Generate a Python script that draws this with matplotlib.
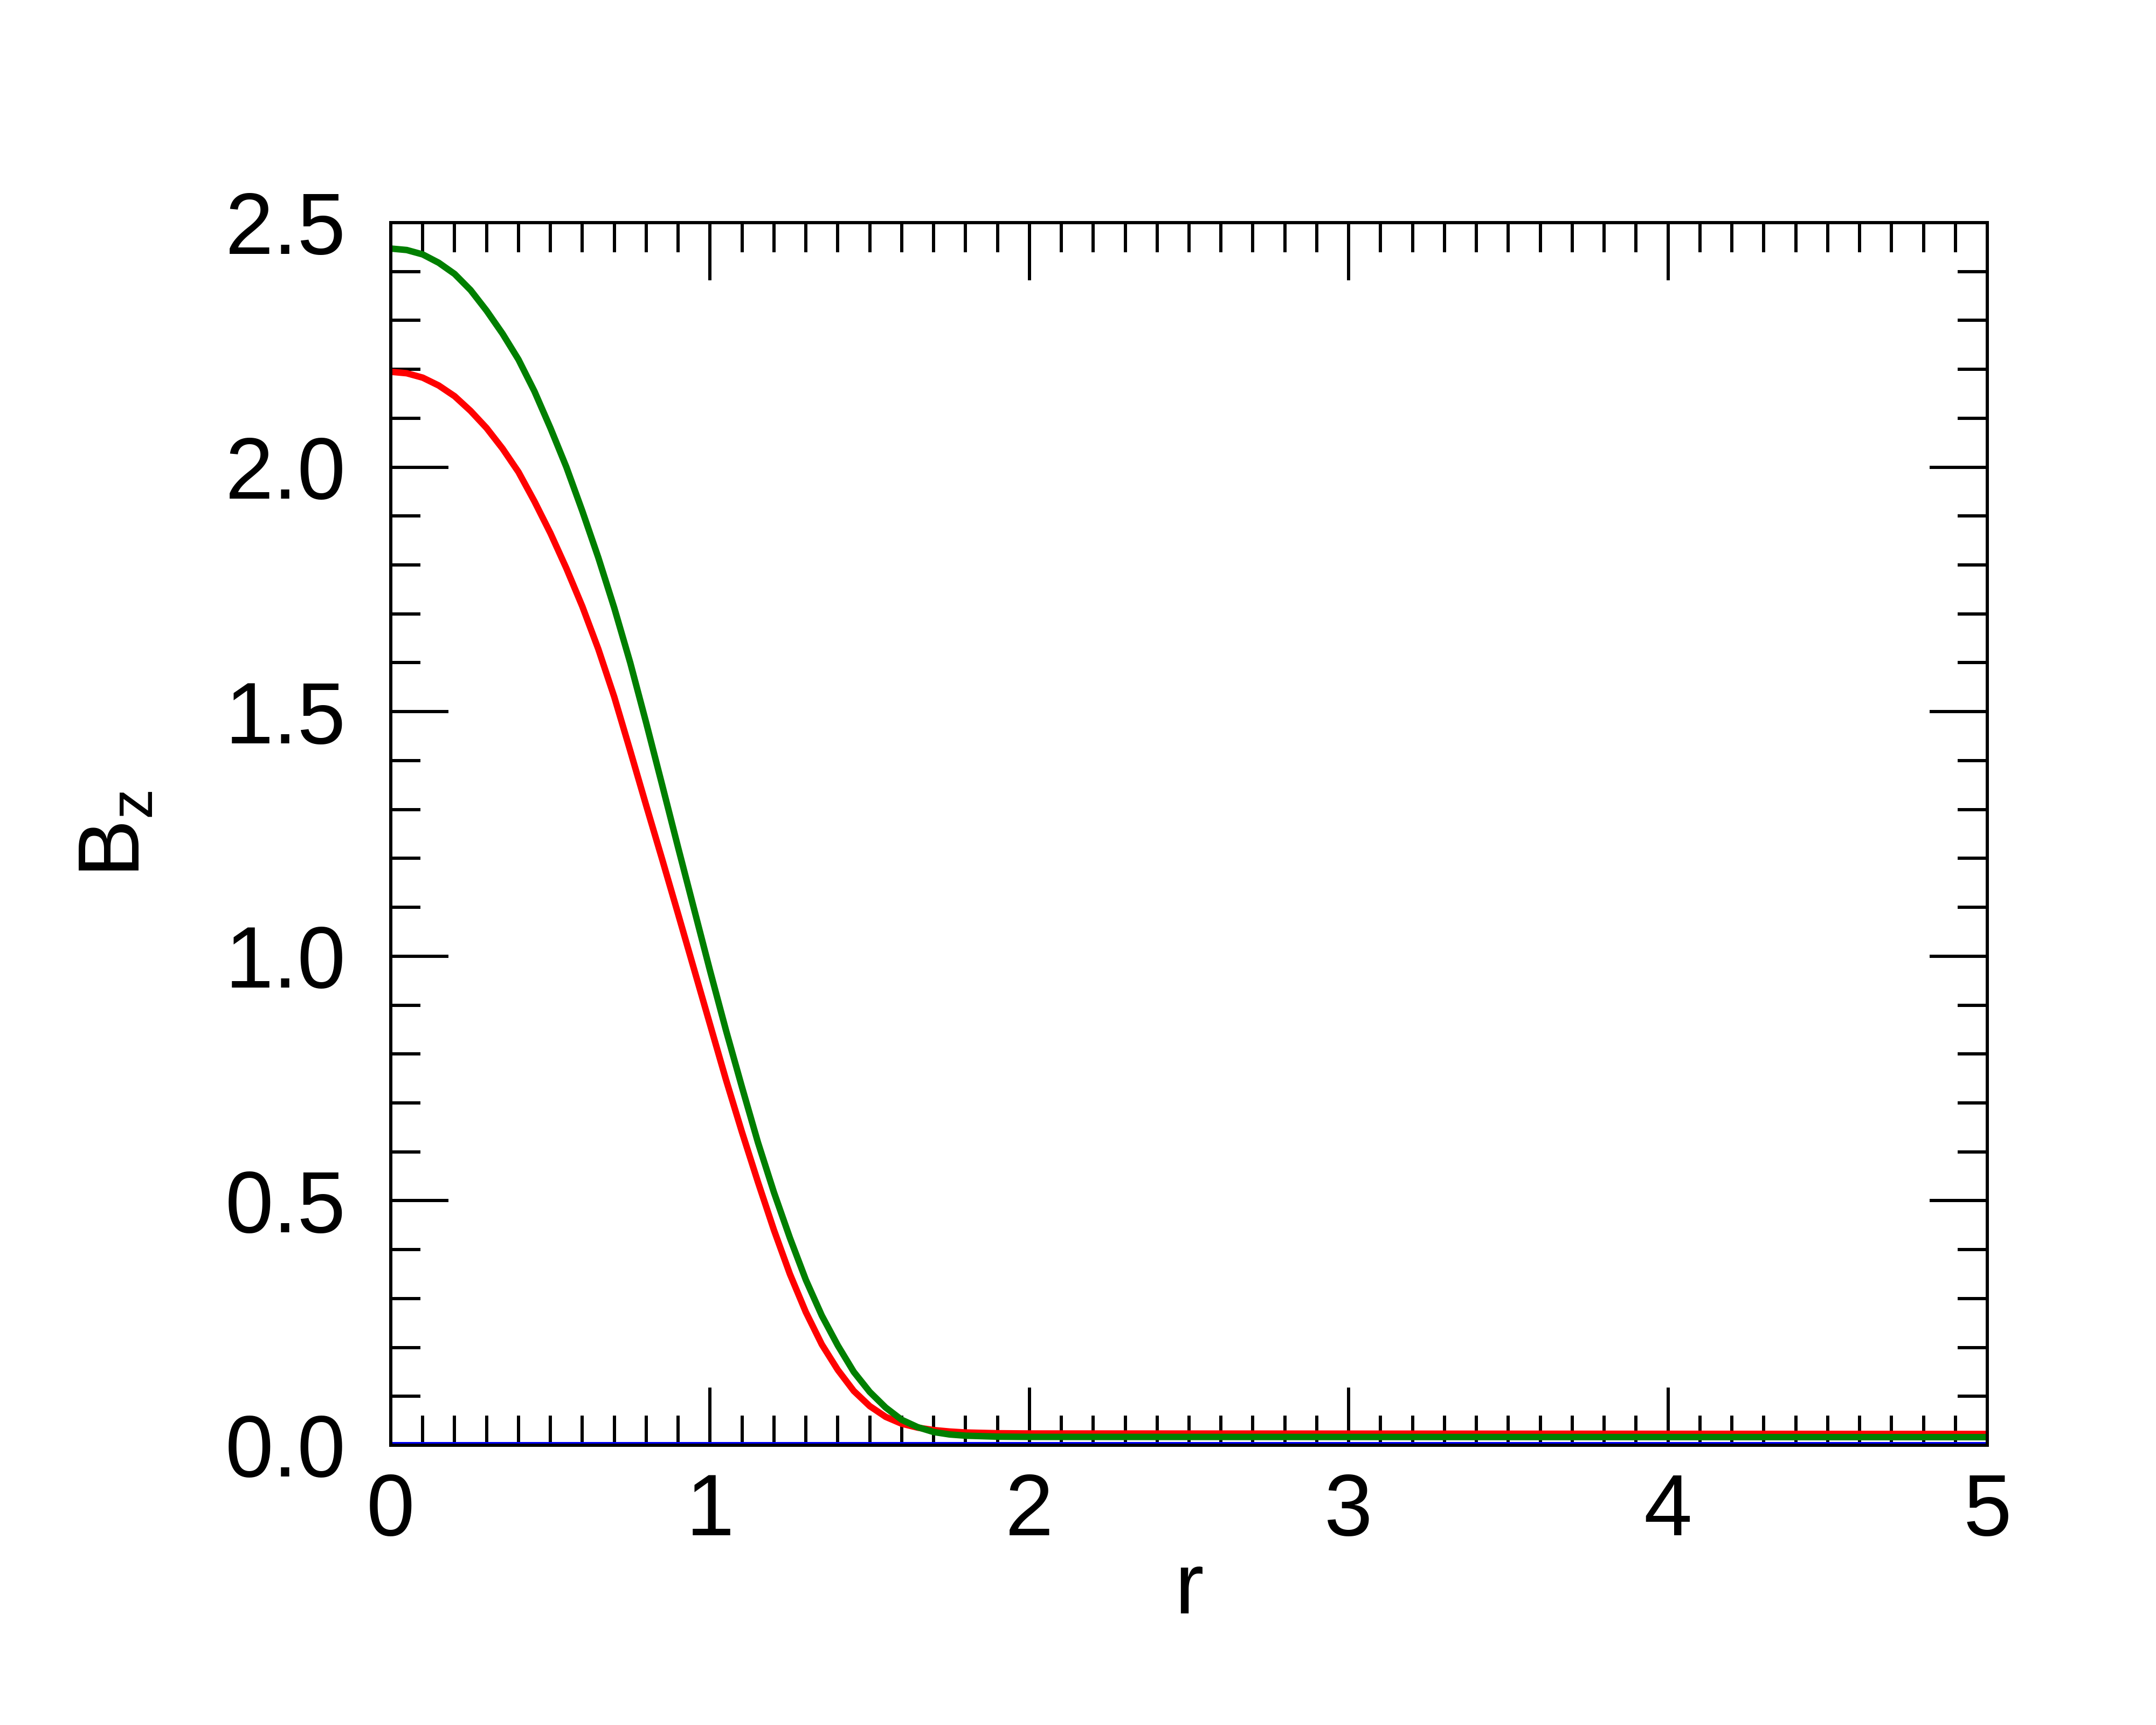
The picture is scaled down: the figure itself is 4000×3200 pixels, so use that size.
import matplotlib
matplotlib.use('Agg')
import matplotlib.pyplot as plt
from matplotlib.ticker import MultipleLocator, FormatStrFormatter

plt.rcParams['font.family'] = ['Liberation Sans', 'DejaVu Sans']
plt.rcParams['mathtext.fontset'] = 'custom'
plt.rcParams['mathtext.rm'] = 'Liberation Sans'

# values
r_red = [0.0, 0.05, 0.1, 0.15, 0.2, 0.25, 0.3, 0.35, 0.4, 0.45, 0.5, 0.55,
         0.6, 0.65, 0.7, 0.75, 0.8, 0.85, 0.9, 0.95, 1.0, 1.05, 1.1, 1.15,
         1.2, 1.25, 1.3, 1.35, 1.4, 1.45, 1.5, 1.55, 1.6, 1.65, 1.7, 1.75,
         1.8, 1.9, 2.0, 5.0]
bz_red = [2.195, 2.192, 2.183, 2.167, 2.145, 2.115, 2.080, 2.038, 1.990,
          1.930, 1.865, 1.793, 1.715, 1.628, 1.530, 1.420, 1.308, 1.198,
          1.086, 0.973, 0.860, 0.747, 0.640, 0.538, 0.440, 0.350, 0.272,
          0.206, 0.154, 0.111, 0.080, 0.058, 0.044, 0.036, 0.031, 0.028,
          0.026, 0.0245, 0.024, 0.023]

r_green = [0.0, 0.05, 0.1, 0.15, 0.2, 0.25, 0.3, 0.35, 0.4, 0.45, 0.5, 0.55,
           0.6, 0.65, 0.7, 0.75, 0.8, 0.85, 0.9, 0.95, 1.0, 1.05, 1.1, 1.15,
           1.2, 1.25, 1.3, 1.35, 1.4, 1.45, 1.5, 1.55, 1.6, 1.65, 1.7, 1.75,
           1.8, 1.9, 2.0, 5.0]
bz_green = [2.447, 2.444, 2.435, 2.418, 2.395, 2.362, 2.320, 2.273, 2.220,
            2.155, 2.080, 2.000, 1.910, 1.815, 1.712, 1.600, 1.477, 1.350,
            1.222, 1.096, 0.970, 0.848, 0.732, 0.619, 0.517, 0.424, 0.338,
            0.265, 0.204, 0.150, 0.109, 0.077, 0.052, 0.037, 0.027, 0.022,
            0.0195, 0.0175, 0.017, 0.0165]

r_blue = [0.0, 5.0]
bz_blue = [0.0, 0.0]

lw = 2.16
fig = plt.figure(figsize=(10, 8), dpi=400)
ax = fig.add_axes([0.18125, 0.16219, 0.7405, 0.70875])

ax.plot(r_red, bz_red, color='#ff0000', lw=lw, solid_capstyle='butt',
        solid_joinstyle='round')
ax.plot(r_green, bz_green, color='#007f00', lw=lw, solid_capstyle='butt',
        solid_joinstyle='round')
ax.plot(r_blue, bz_blue, color='#0000ff', lw=lw, solid_capstyle='butt')

ax.set_xlim(0, 5)
ax.set_ylim(0, 2.5)
ax.xaxis.set_major_locator(MultipleLocator(1))
ax.xaxis.set_minor_locator(MultipleLocator(0.1))
ax.yaxis.set_major_locator(MultipleLocator(0.5))
ax.yaxis.set_minor_locator(MultipleLocator(0.1))
ax.xaxis.set_major_formatter(FormatStrFormatter('%d'))
ax.yaxis.set_major_formatter(FormatStrFormatter('%.1f'))

for s in ax.spines.values():
    s.set_linewidth(1.08)
ax.tick_params(which='both', direction='in', top=True, right=True,
               width=1.08, labelsize=29)
ax.tick_params(which='major', length=19.3)
ax.tick_params(which='minor', length=9.9)
ax.tick_params(axis='x', which='major', pad=9)
ax.tick_params(axis='y', which='major', pad=15)

ax.set_xlabel('r', fontsize=29)
ax.set_ylabel(r'$\mathregular{B_z}$', fontsize=29)
ax.xaxis.set_label_coords(0.5, -0.086)
ax.yaxis.set_label_coords(-0.146, 0.5)

fig.savefig('out.png', dpi=400)
